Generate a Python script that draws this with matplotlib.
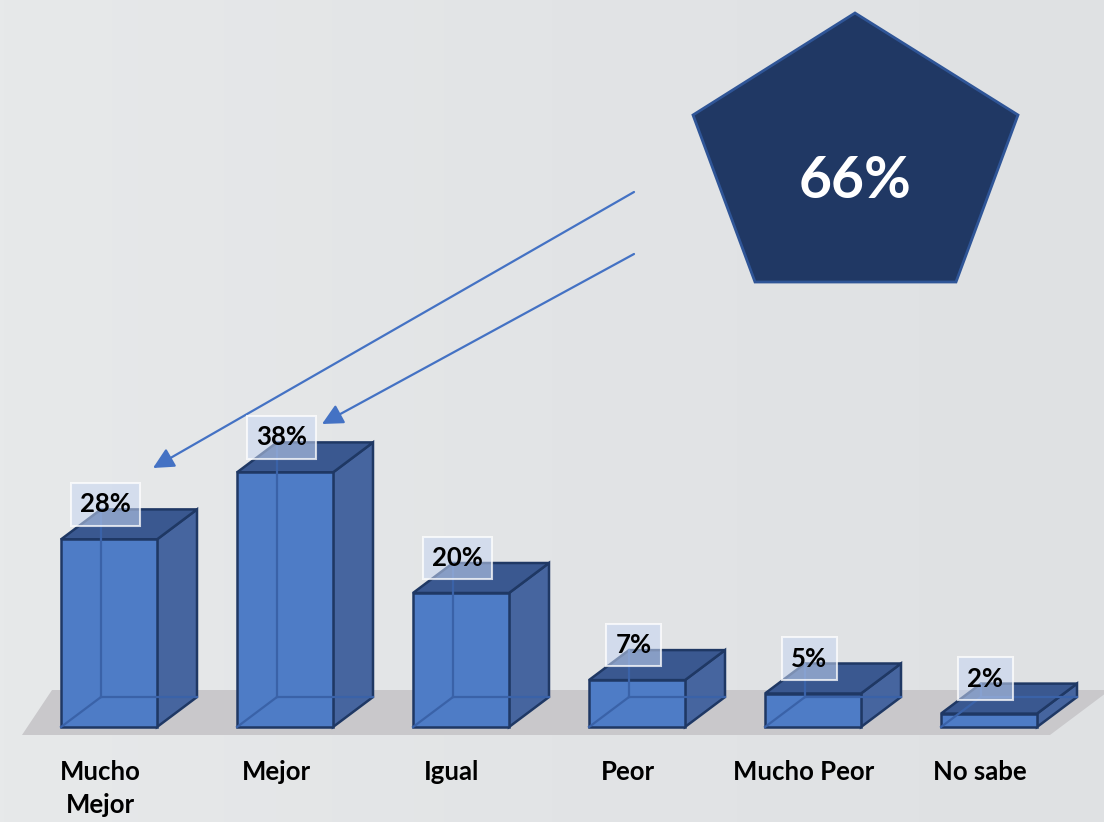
import numpy as np
import matplotlib
matplotlib.use("Agg")
import matplotlib.pyplot as plt
from matplotlib.patches import Polygon
from matplotlib.colors import LinearSegmentedColormap

# ---- data ----
categories = ["Mucho\nMejor", "Mejor", "Igual", "Peor", "Mucho Peor", "No sabe"]
values = [28, 38, 20, 7, 5, 2]
value_labels = ["28%", "38%", "20%", "7%", "5%", "2%"]
callout_text = "66%"

FONT = "Lato"
W, H = 1104, 822
fig = plt.figure(figsize=(W / 100, H / 100), dpi=100)
fig.patch.set_facecolor("#e3e5e7")

# ---- background / decoration axes (pixel coordinates) ----
bg = fig.add_axes([0, 0, 1, 1], zorder=0)
bg.set_xlim(0, W)
bg.set_ylim(H, 0)
bg.axis("off")
grad = np.linspace(0, 1, 256)[None, :]
cm = LinearSegmentedColormap.from_list("bgc", ["#e7e9ea", "#e2e4e6", "#dfe1e3"])
bg.imshow(grad, cmap=cm, extent=(0, W, H, 0), aspect="auto", zorder=0)
# floor
bg.add_patch(Polygon([(22, 735), (1050, 735), (1110, 690), (52, 690)],
                     closed=True, facecolor="#c9c8cb", edgecolor="none", zorder=1))
# pentagon callout
bg.add_patch(Polygon([(855, 13), (1018, 115), (956, 282), (755, 282), (693, 115)],
                     closed=True, facecolor="#203864", edgecolor="#2f5597", lw=2, zorder=2))
bg.text(855, 181, callout_text, color="white", fontsize=41, fontweight="bold",
        family=FONT, ha="center", va="center", zorder=3)
# arrows
for start, end in [((634, 192), (153, 468)), ((634, 254), (322, 424))]:
    bg.annotate("", xy=end, xytext=start,
                arrowprops=dict(arrowstyle="-|>,head_length=0.9,head_width=0.45",
                                color="#4472c4", lw=1.6, mutation_scale=14,
                                shrinkA=0, shrinkB=0), zorder=3)

# ---- main data axes ----
PX_PER_CAT = 176.0
PX_PER_PCT = 6.7
X0_PX = 109.0
BASE_PX = 727.0
ax = fig.add_axes([0, 0, 1, 1], zorder=1)
ax.patch.set_alpha(0)
ax.set_xlim(-X0_PX / PX_PER_CAT, (W - X0_PX) / PX_PER_CAT)
ax.set_ylim((BASE_PX - H) / PX_PER_PCT, BASE_PX / PX_PER_PCT)
ax.axis("off")

bw = 96 / PX_PER_CAT
ddx = 40 / PX_PER_CAT
ddy = 30 / PX_PER_PCT
edge = "#1f3864"
front_c = "#4e7cc6"
side_c = "#46659f"
top_c = "#3a5890"
inner_c = "#3a62a8"

x = np.arange(len(values))
for i, v in zip(x, values):
    x0, x1 = i - bw / 2, i + bw / 2
    # side
    ax.add_patch(Polygon([(x1, 0), (x1 + ddx, ddy), (x1 + ddx, v + ddy), (x1, v)],
                         closed=True, facecolor=side_c, edgecolor=edge, lw=1.8,
                         zorder=1.5))
    # top
    ax.add_patch(Polygon([(x0, v), (x0 + ddx, v + ddy), (x1 + ddx, v + ddy), (x1, v)],
                         closed=True, facecolor=top_c, edgecolor=edge, lw=1.8,
                         zorder=1.5))
# front faces
ax.bar(x, values, width=bw, color=front_c, edgecolor=edge, linewidth=1.8, zorder=3)
# hidden back edges (seen through the translucent box)
for i, v in zip(x, values):
    x0, x1 = i - bw / 2, i + bw / 2
    ax.plot([x0 + ddx, x0 + ddx], [ddy, v + ddy], color=inner_c, lw=1.6, zorder=3.5)
    ax.plot([x0 + ddx, x1 + ddx], [ddy, ddy], color=inner_c, lw=1.6, zorder=3.5)
    ax.plot([x0, x0 + ddx], [0, ddy], color=inner_c, lw=1.6, zorder=3.5)

# value labels
for i, v, lab in zip(x, values, value_labels):
    ax.text(i - 0.02, v + 35 / PX_PER_PCT, lab, ha="center", va="center",
            fontsize=18.5, fontweight="bold", family=FONT, color="black", zorder=5,
            bbox=dict(boxstyle="square,pad=0.36", facecolor=(0.78, 0.84, 0.95, 0.55),
                      edgecolor=(1, 1, 1, 0.75), lw=1.5))

# category labels
for i, c in zip(x, categories):
    ax.text(i - 9 / PX_PER_CAT, (BASE_PX - 760) / PX_PER_PCT, c, ha="center", va="top",
            fontsize=18.5, fontweight="bold", family=FONT, color="black",
            linespacing=1.45, zorder=5)

fig.savefig("out.png", dpi=100, facecolor=fig.get_facecolor())
